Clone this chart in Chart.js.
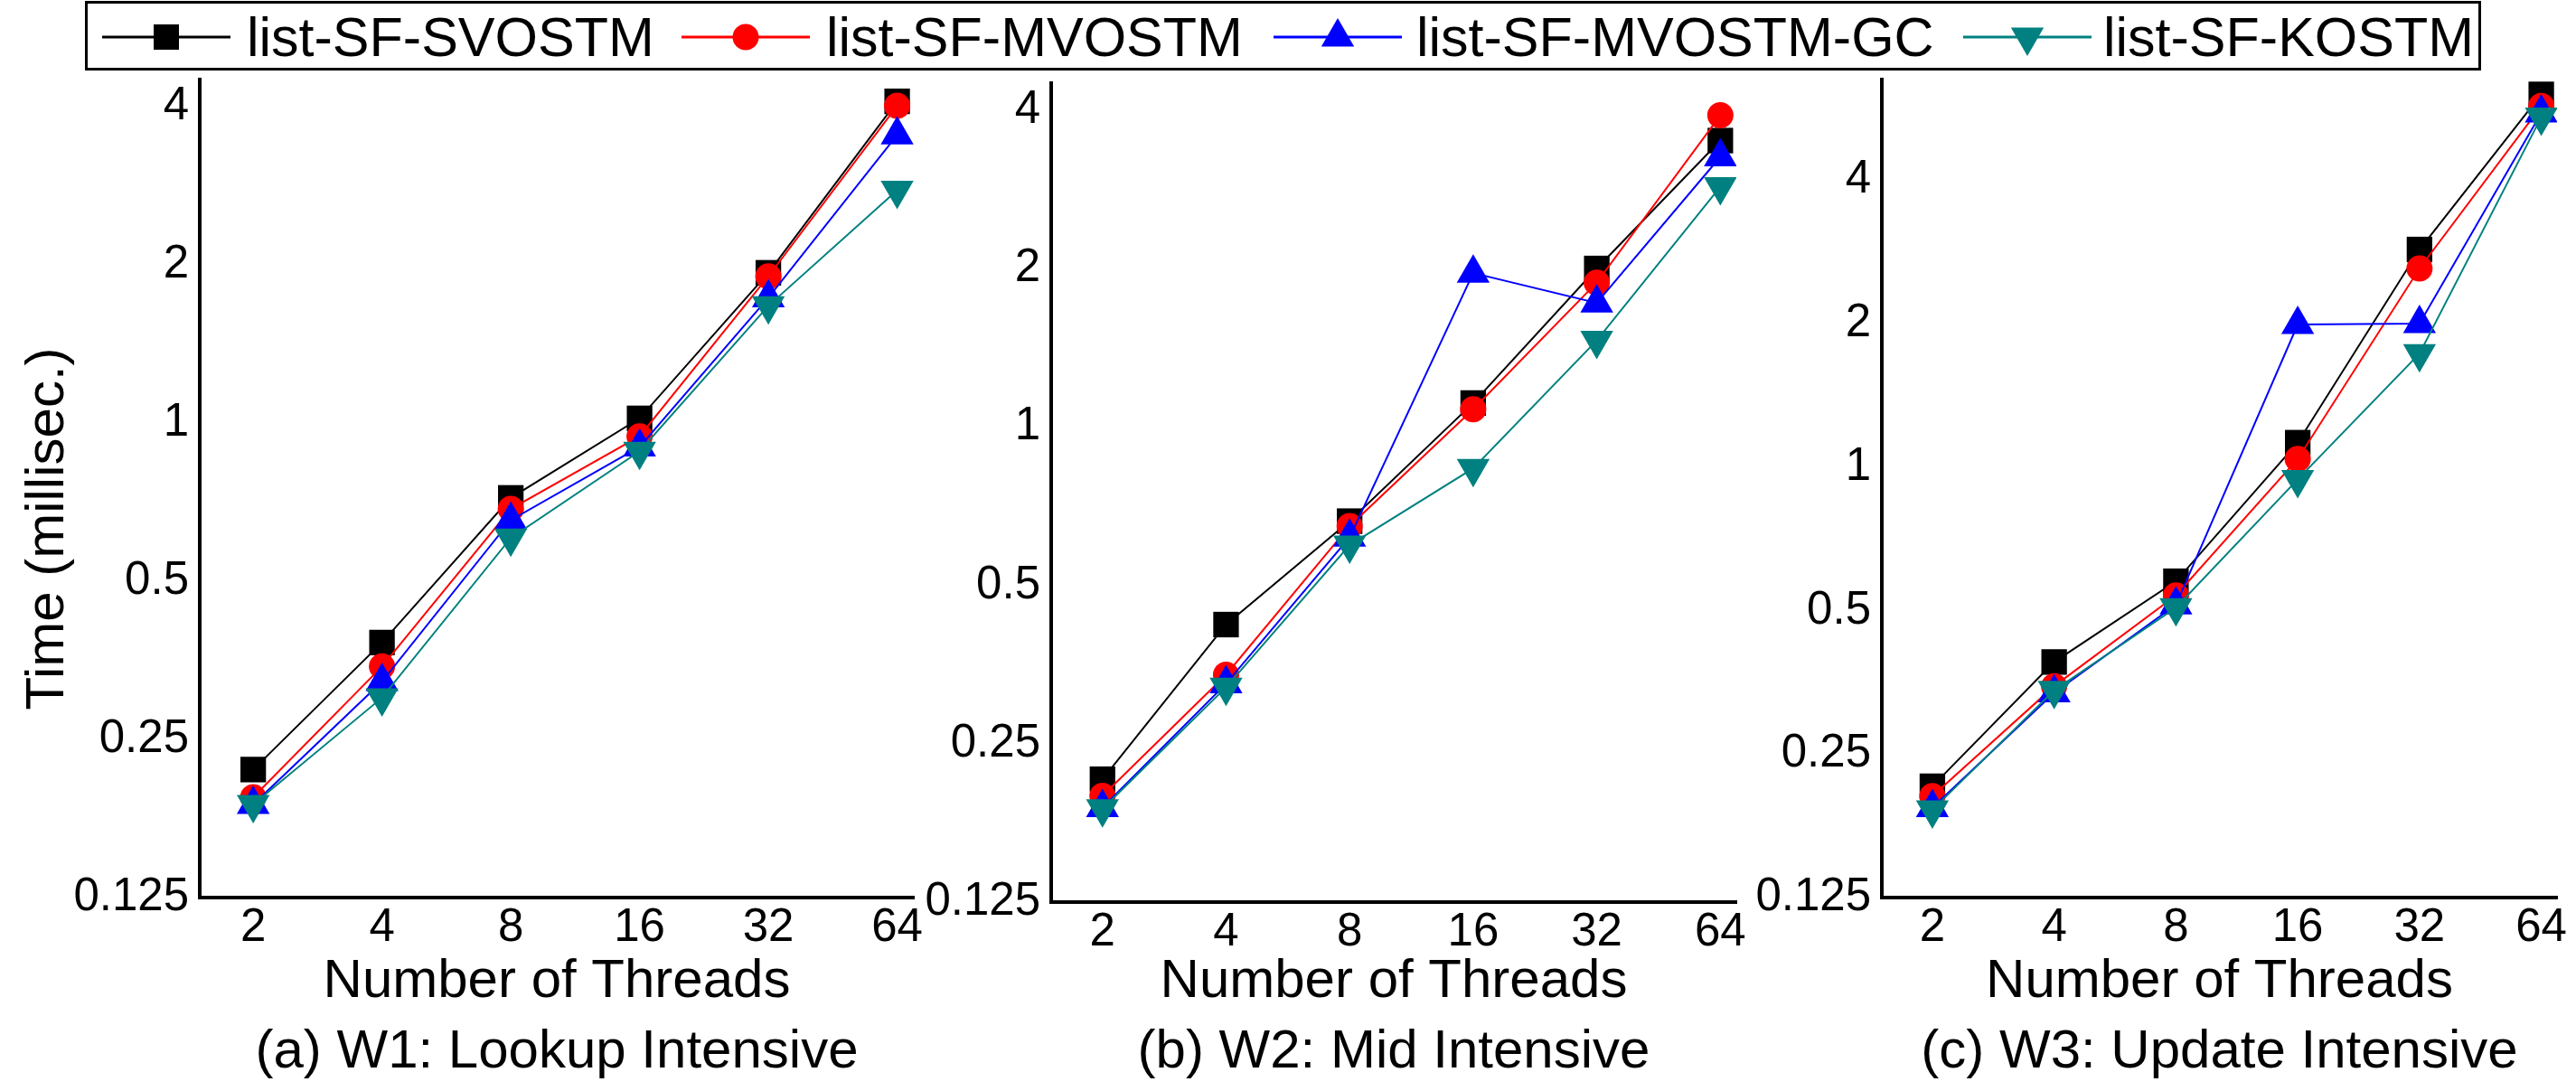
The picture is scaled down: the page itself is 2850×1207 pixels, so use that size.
<!DOCTYPE html>
<html>
<head>
<meta charset="utf-8">
<title>list-SF STM: time vs threads</title>
<script src="https://cdn.jsdelivr.net/npm/chart.js@4.4.1/dist/chart.umd.min.js"></script>
<style>
  html, body { margin: 0; padding: 0; background: #fff; }
  #page { position: relative; width: 2850px; height: 1207px; overflow: hidden; font-family: 'Liberation Sans', Arial, sans-serif; }
  #page canvas { position: absolute; top: 0; }
  #legendBox { position: absolute; left: 94px; top: 1px; width: 2651px; height: 77px; border: 3px solid #000; box-sizing: border-box; z-index: 2; }
  .lg-text { position: absolute; top: 4px; line-height: 75px; font-size: 61px; white-space: nowrap; color: #000; z-index: 3; }
  .lg-mark { position: absolute; top: 19px; z-index: 3; }
</style>
</head>
<body>
<div id="page">
  <div id="legendBox"></div>
  <canvas id="chartW1" width="1045" height="1207" style="left:0px"></canvas>
  <canvas id="chartW2" width="925" height="1207" style="left:1020px"></canvas>
  <canvas id="chartW3" width="910" height="1207" style="left:1940px"></canvas>
</div>
<script>
// ---- data ----
const threads = [2, 4, 8, 16, 32, 64];
const seriesNames = ['list-SF-SVOSTM', 'list-SF-MVOSTM', 'list-SF-MVOSTM-GC', 'list-SF-KOSTM'];
const yTickValues = [0.125, 0.25, 0.5, 1, 2, 4];
const captions = ['(a) W1: Lookup Intensive', '(b) W2: Mid Intensive', '(c) W3: Update Intensive'];

// W1: lookup intensive
const w1Svostm = [0.219, 0.382, 0.72, 1.02, 1.93, 4.09];
const w1Mvostm = [0.194, 0.344, 0.686, 0.943, 1.90, 4.01];
const w1MvostmGc = [0.188, 0.322, 0.653, 0.90, 1.73, 3.53];
const w1Kostm = [0.188, 0.30, 0.604, 0.883, 1.67, 2.77];

// W2: mid intensive
const w2Svostm = [0.214, 0.421, 0.662, 1.11, 2.0, 3.5];
const w2Mvostm = [0.199, 0.338, 0.648, 1.08, 1.88, 3.91];
const w2MvostmGc = [0.189, 0.325, 0.617, 1.96, 1.72, 3.26];
const w2Kostm = [0.188, 0.32, 0.596, 0.834, 1.46, 2.86];

// W3: update intensive
const w3Svostm = [0.214, 0.39, 0.576, 1.125, 2.86, 6.05];
const w3Mvostm = [0.204, 0.347, 0.538, 1.04, 2.61, 5.72];
const w3MvostmGc = [0.193, 0.336, 0.514, 1.99, 2.0, 5.53];
const w3Kostm = [0.191, 0.34, 0.507, 0.942, 1.73, 5.42];

// ---- styling ----
const FONT = "'Liberation Sans', Arial, sans-serif";
const seriesColors = ['#000000', '#ff0000', '#0000ff', '#008080'];
const pointStyles = ['rect', 'circle', 'triangle', 'triangle'];
const pointRotations = [0, 0, 0, 180];
const pointRadii = [20, 14.5, 21, 21];

// where each panel sits on the page
const panels = [
  { id: 'chartW1', series: [w1Svostm, w1Mvostm, w1MvostmGc, w1Kostm], yMax: 4.5, top: 88, padRight: 34, yAxisWidth: 221, xAxisHeight: 135, yTitle: true },
  { id: 'chartW2', series: [w2Svostm, w2Mvostm, w2MvostmGc, w2Kostm], yMax: 4.5, top: 92, padRight: 24, yAxisWidth: 143, xAxisHeight: 130, yTitle: false },
  { id: 'chartW3', series: [w3Svostm, w3Mvostm, w3MvostmGc, w3Kostm], yMax: 6.5, top: 88, padRight: 17, yAxisWidth: 142, xAxisHeight: 135, yTitle: false },
];

// y axis title sits a bit below the middle of the plot, drawn by hand
const yTitlePlugin = {
  id: 'yTitle',
  afterDraw(chart) {
    const ctx = chart.ctx;
    ctx.save();
    ctx.translate(53, 585);
    ctx.rotate(-Math.PI / 2);
    ctx.font = '60px ' + FONT;
    ctx.fillStyle = '#000';
    ctx.textAlign = 'center';
    ctx.textBaseline = 'middle';
    ctx.fillText('Time (millisec.)', 0, 0);
    ctx.restore();
  }
};

panels.forEach((p, idx) => {
  const datasets = p.series.map((vals, i) => ({
    label: seriesNames[i],
    data: threads.map((t, j) => ({ x: t, y: vals[j] })),
    borderColor: seriesColors[i],
    backgroundColor: seriesColors[i],
    borderWidth: 2,
    pointStyle: pointStyles[i],
    pointRotation: pointRotations[i],
    pointRadius: pointRadii[i],
    pointBorderWidth: 0,
    pointBackgroundColor: seriesColors[i],
    tension: 0,
    order: 3 - i, // later series drawn on top
  }));

  new Chart(document.getElementById(p.id), {
    type: 'line',
    data: { datasets },
    plugins: p.yTitle ? [yTitlePlugin] : [],
    options: {
      responsive: false,
      animation: false,
      devicePixelRatio: 1,
      layout: { padding: { top: p.top, right: p.padRight, bottom: 0, left: 0 } },
      plugins: {
        legend: { display: false },
        tooltip: { enabled: false },
        title: {
          display: true,
          text: captions[idx],
          position: 'bottom',
          fullSize: false,
          color: '#000',
          font: { size: 60, family: FONT, weight: 'normal' },
          padding: { top: 0, bottom: 7 },
        },
      },
      scales: {
        x: {
          type: 'logarithmic',
          min: 1.5,
          max: 70,
          afterBuildTicks: (s) => { s.ticks = threads.map(v => ({ value: v })); },
          afterFit: (s) => { s.height = p.xAxisHeight; },
          grid: { display: false, drawTicks: false },
          border: { display: true, color: '#000', width: 4 },
          ticks: {
            callback: (v) => String(v),
            color: '#000',
            font: { size: 51, family: FONT },
            padding: 3,
            maxRotation: 0,
            autoSkip: false,
          },
          title: {
            display: true,
            text: 'Number of Threads',
            color: '#000',
            font: { size: 60, family: FONT },
            padding: { top: 0, bottom: 6 },
          },
        },
        y: {
          type: 'logarithmic',
          min: 0.125,
          max: p.yMax,
          afterBuildTicks: (s) => { s.ticks = yTickValues.map(v => ({ value: v })); },
          afterFit: (s) => { s.width = p.yAxisWidth; },
          grid: { display: false, drawTicks: false },
          border: { display: true, color: '#000', width: 4 },
          ticks: {
            callback: (v) => String(v),
            color: '#000',
            font: { size: 51, family: FONT },
            padding: 12,
            autoSkip: false,
          },
        },
      },
    },
  });
});

// ---- shared legend across the top ----
const legendLineX = [113, 754, 1409, 2172];
const legendTextX = [273, 914, 1567, 2327];
const page = document.getElementById('page');

function markerSvg(i) {
  const w = 142, h = 44, cx = 71, cy = 22, c = seriesColors[i];
  let shape = '';
  if (pointStyles[i] === 'rect') {
    shape = `<rect x="${cx - 14}" y="${cy - 14}" width="28" height="28" fill="${c}"/>`;
  } else if (pointStyles[i] === 'circle') {
    shape = `<circle cx="${cx}" cy="${cy}" r="14.5" fill="${c}"/>`;
  } else {
    const r = 21, dx = r * Math.sqrt(3) / 2;
    const s = pointRotations[i] === 180 ? -1 : 1;
    shape = `<polygon points="${cx},${cy - s * r} ${cx + dx},${cy + s * r / 2} ${cx - dx},${cy + s * r / 2}" fill="${c}"/>`;
  }
  return `<svg width="${w}" height="${h}" xmlns="http://www.w3.org/2000/svg">` +
    `<line x1="0" y1="${cy}" x2="${w}" y2="${cy}" stroke="${c}" stroke-width="3"/>` + shape + `</svg>`;
}

seriesNames.forEach((name, i) => {
  const mark = document.createElement('div');
  mark.className = 'lg-mark';
  mark.style.left = legendLineX[i] + 'px';
  mark.innerHTML = markerSvg(i);
  page.appendChild(mark);

  const txt = document.createElement('div');
  txt.className = 'lg-text';
  txt.style.left = legendTextX[i] + 'px';
  txt.textContent = name;
  page.appendChild(txt);
});
</script>
</body>
</html>
